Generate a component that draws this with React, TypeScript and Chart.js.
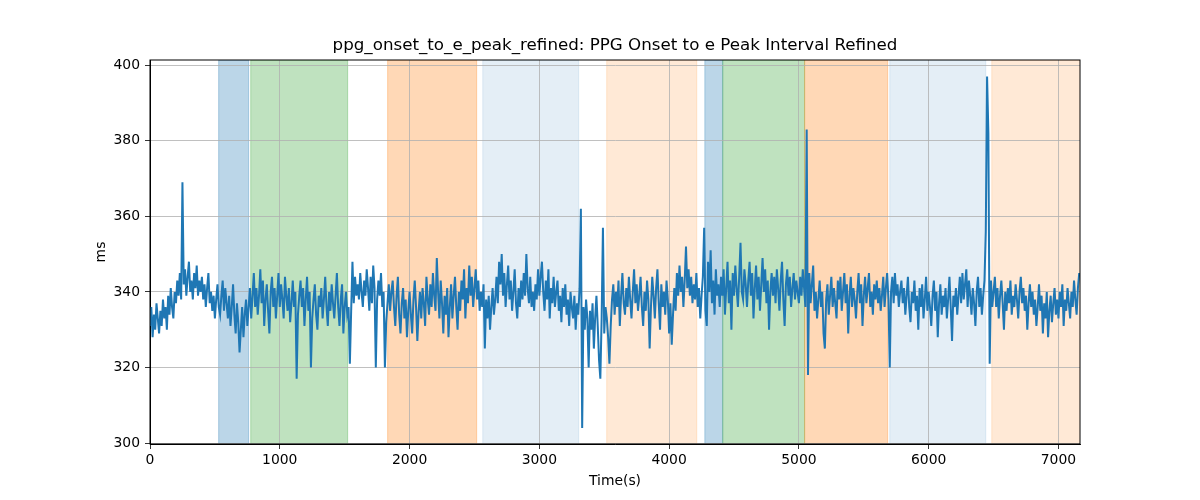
import { useEffect, useRef } from 'react';
import { Chart, registerables } from 'chart.js';

Chart.register(...registerables);

const chartTitle = 'ppg_onset_to_e_peak_refined: PPG Onset to e Peak Interval Refined';
const xAxisLabel = 'Time(s)';
const yAxisLabel = 'ms';

// one reading every 10 s, starting at t = 0 (20 readings per row = 200 s)
const SAMPLE_STEP = 10;
const intervalMs = [
  331, 336, 328, 334, 330, 337, 333, 329, 335, 331, 338, 333, 336, 330, 339, 334, 341, 336, 333, 340,
  337, 343, 339, 345, 338, 369, 342, 346, 339, 344, 348, 340, 343, 338, 345, 341, 347, 339, 343, 340,
  344, 338, 342, 336, 341, 345, 337, 340, 335, 339, 333, 338, 342, 336, 334, 339, 343, 335, 341, 337,
  333, 339, 331, 336, 342, 334, 329, 337, 332, 324, 330, 336, 328, 334, 338, 331, 336, 341, 333, 339,
  345, 336, 341, 334, 339, 346, 337, 343, 331, 338, 342, 335, 329, 340, 344, 336, 341, 333, 339, 345,
  336, 342, 338, 333, 344, 339, 335, 341, 332, 337, 343, 336, 340, 317, 334, 339, 343, 336, 341, 331,
  338, 344, 335, 340, 320, 333, 338, 342, 334, 330, 339, 336, 341, 333, 338, 344, 336, 331, 340, 335,
  342, 337, 333, 339, 345, 336, 331, 338, 342, 329, 336, 340, 334, 336, 321, 335, 348, 337, 344, 339,
  342, 338, 345, 340, 336, 343, 339, 346, 341, 335, 344, 337, 347, 341, 320, 338, 343, 339, 345, 336,
  340, 320, 332, 337, 342, 335, 340, 343, 336, 331, 339, 344, 334, 329, 337, 341, 333, 338, 328, 335,
  340, 334, 329, 338, 343, 336, 327, 335, 340, 333, 341, 337, 331, 344, 338, 334, 342, 336, 345, 339,
  335, 349, 340, 333, 343, 337, 329, 339, 334, 341, 328, 336, 342, 333, 339, 344, 336, 330, 340, 335,
  343, 338, 346, 333, 341, 337, 347, 339, 344, 336, 341, 346, 338, 343, 335, 340, 336, 342, 325, 338,
  333, 339, 330, 336, 341, 334, 338, 344, 337, 348, 342, 350, 339, 345, 336, 342, 347, 338, 343, 335,
  340, 346, 337, 333, 341, 336, 343, 338, 345, 339, 350, 341, 337, 344, 336, 340, 335, 342, 338, 346,
  339, 344, 348, 340, 335, 343, 338, 346, 333, 341, 337, 344, 336, 340, 343, 335, 339, 332, 341, 336,
  342, 334, 338, 331, 340, 336, 333, 339, 330, 337, 334, 341, 362, 304, 336, 330, 338, 333, 320, 335,
  330, 337, 325, 333, 339, 331, 322, 317, 333, 357, 329, 336, 333, 328, 321, 331, 338, 342, 334, 340,
  336, 343, 331, 339, 345, 337, 334, 341, 336, 344, 338, 333, 340, 346, 337, 342, 335, 339, 344, 336,
  331, 340, 335, 343, 338, 325, 336, 344, 339, 333, 341, 346, 337, 330, 342, 336, 340, 334, 343, 338,
  329, 337, 326, 334, 341, 335, 345, 339, 347, 340, 344, 336, 343, 352, 341, 346, 339, 344, 337, 342,
  338, 345, 336, 341, 333, 339, 344, 357, 335, 331, 348, 340, 351, 337, 343, 334, 346, 339, 342, 336,
  344, 339, 346, 334, 341, 348, 337, 343, 330, 345, 339, 347, 341, 336, 344, 353, 340, 338, 346, 342,
  336, 343, 348, 339, 345, 333, 341, 347, 338, 344, 335, 342, 349, 340, 346, 337, 343, 330, 340, 345,
  339, 344, 337, 346, 341, 335, 343, 348, 338, 331, 342, 346, 339, 344, 336, 341, 345, 338, 343, 340,
  337, 344, 339, 346, 341, 336, 383, 318, 345, 337, 342, 347, 335, 340, 333, 338, 343, 336, 340, 329,
  325, 338, 342, 334, 339, 344, 336, 341, 337, 333, 343, 338, 344, 335, 340, 345, 337, 342, 329, 339,
  344, 336, 341, 338, 333, 340, 345, 337, 342, 331, 339, 344, 337, 341, 345, 336, 340, 334, 342, 338,
  343, 337, 341, 335, 339, 344, 336, 341, 345, 338, 320, 340, 344, 337, 345, 339, 342, 336, 340, 343,
  337, 341, 334, 339, 344, 336, 332, 340, 337, 343, 335, 339, 330, 341, 336, 342, 333, 338, 344, 335,
  340, 336, 331, 339, 343, 335, 340, 328, 337, 342, 334, 339, 336, 341, 333, 338, 344, 336, 327, 339,
  336, 341, 334, 339, 344, 337, 345, 338, 342, 346, 336, 343, 339, 334, 341, 337, 331, 340, 344, 336,
  341, 334, 339, 343, 356, 397, 382, 321, 343, 336, 340, 344, 336, 341, 333, 339, 343, 337, 330, 340,
  335, 341, 337, 343, 334, 339, 336, 342, 338, 333, 340, 344, 337, 341, 335, 339, 330, 337, 342, 336,
  340, 334, 338, 331, 336, 342, 335, 339, 329, 337, 333, 340, 328, 335, 339, 332, 337, 341, 334, 338,
  333, 340, 336, 342, 331, 338, 335, 341, 337, 333, 340, 336, 343, 338, 334, 341, 345,
];

// shaded segments (seconds)
const bandStarts = [529, 776, 1831, 2564, 3519, 4275, 4413, 5044, 5700, 6486];
const bandEnds = [760, 1523, 2517, 3303, 4213, 4413, 5044, 5684, 6440, 7170];
const bandColors = [
  'rgba(31, 119, 180, 0.3)',
  'rgba(44, 160, 44, 0.3)',
  'rgba(255, 127, 14, 0.3)',
  'rgba(31, 119, 180, 0.12)',
  'rgba(255, 127, 14, 0.17)',
  'rgba(31, 119, 180, 0.3)',
  'rgba(44, 160, 44, 0.3)',
  'rgba(255, 127, 14, 0.3)',
  'rgba(31, 119, 180, 0.12)',
  'rgba(255, 127, 14, 0.17)',
];

const xTicks = [0, 1000, 2000, 3000, 4000, 5000, 6000, 7000];
const yTicks = [300, 320, 340, 360, 380, 400];
const xMin = 0;
const xMax = 7166;
const yMin = 299.74;
const yMax = 401.4;

const bandsPlugin = {
  id: 'bands',
  beforeDraw(chart: any) {
    const { ctx, chartArea, scales } = chart;
    ctx.save();
    ctx.beginPath();
    ctx.rect(chartArea.left, chartArea.top, chartArea.right - chartArea.left, chartArea.bottom - chartArea.top);
    ctx.clip();
    bandStarts.forEach((start, i) => {
      const x0 = scales.x.getPixelForValue(start);
      const x1 = scales.x.getPixelForValue(bandEnds[i]);
      ctx.fillStyle = bandColors[i];
      ctx.fillRect(x0, chartArea.top, x1 - x0, chartArea.bottom - chartArea.top);
      ctx.strokeStyle = bandColors[i];
      ctx.lineWidth = 1;
      ctx.strokeRect(x0, chartArea.top, x1 - x0, chartArea.bottom - chartArea.top);
    });
    ctx.restore();
  },
  afterDraw(chart: any) {
    const { ctx, chartArea } = chart;
    ctx.save();
    ctx.strokeStyle = '#000';
    ctx.lineWidth = 1;
    ctx.strokeRect(chartArea.left, chartArea.top, chartArea.right - chartArea.left, chartArea.bottom - chartArea.top);
    // title centred over the plot area, like matplotlib
    ctx.fillStyle = '#000';
    ctx.font = '16.7px "DejaVu Sans", sans-serif';
    ctx.textAlign = 'center';
    ctx.textBaseline = 'middle';
    ctx.fillText(chartTitle, (chartArea.left + chartArea.right) / 2, 46);
    ctx.restore();
  },
};

export default function App() {
  const canvasRef = useRef<HTMLCanvasElement>(null);
  const chartRef = useRef<Chart | null>(null);

  useEffect(() => {
    if (!canvasRef.current) return;
    if (chartRef.current) chartRef.current.destroy();

    const ctx = canvasRef.current.getContext('2d');
    if (!ctx) return;

    Chart.defaults.font.family = '"DejaVu Sans", sans-serif';
    Chart.defaults.font.size = 13.9;
    Chart.defaults.color = '#000';

    const points = intervalMs.map((v, i) => ({ x: i * SAMPLE_STEP, y: v }));

    chartRef.current = new Chart(ctx, {
      type: 'line',
      data: {
        datasets: [{
          label: yAxisLabel,
          data: points,
          borderColor: '#1f77b4',
          borderWidth: 2,
          pointRadius: 0,
          tension: 0,
          fill: false,
        }]
      },
      options: {
        responsive: true,
        maintainAspectRatio: false,
        animation: false,
        layout: { padding: { left: 0, right: 120, top: 60, bottom: 0 } },
        plugins: {
          legend: { display: false },
          tooltip: { enabled: false },
          title: { display: false },
        },
        scales: {
          x: {
            type: 'linear',
            min: xMin,
            max: xMax,
            afterFit: (axis: any) => { axis.height = 56; },
            afterBuildTicks: (axis: any) => { axis.ticks = xTicks.map(v => ({ value: v })); },
            ticks: { callback: (v: any) => String(v), padding: 3, maxRotation: 0 },
            grid: { color: '#b0b0b0', lineWidth: 0.8, tickColor: '#000', tickLength: 5 },
            border: { display: true, color: '#000', width: 1 },
            title: { display: true, text: xAxisLabel, padding: { top: 0, bottom: 10.7 } },
          },
          y: {
            type: 'linear',
            min: yMin,
            max: yMax,
            afterFit: (axis: any) => { axis.width = 150; },
            afterBuildTicks: (axis: any) => { axis.ticks = yTicks.map(v => ({ value: v })); },
            ticks: { callback: (v: any) => String(v), padding: 5 },
            grid: { color: '#b0b0b0', lineWidth: 0.8, tickColor: '#000', tickLength: 5 },
            border: { display: true, color: '#000', width: 1 },
            title: { display: true, text: yAxisLabel, padding: { top: 92.7, bottom: 0 } },
          }
        }
      },
      plugins: [bandsPlugin],
    });

    return () => {
      if (chartRef.current) {
        chartRef.current.destroy();
        chartRef.current = null;
      }
    };
  }, []);

  return (
    <div style={{ position: 'absolute', left: 0, top: 0, width: 1200, height: 500, background: '#fff' }}>
      <canvas ref={canvasRef} />
    </div>
  );
}
